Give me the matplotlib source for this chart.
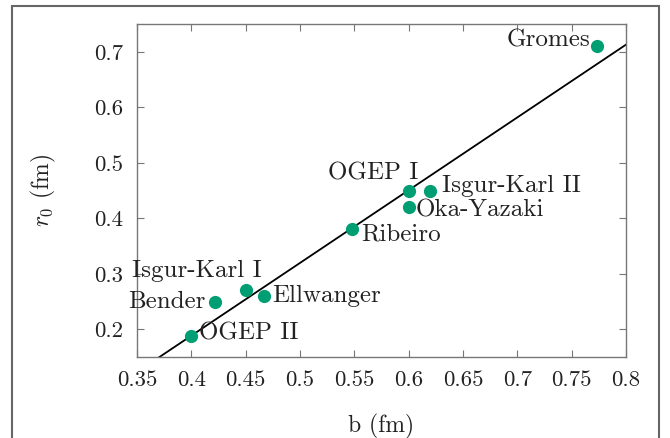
import numpy as np
import matplotlib
matplotlib.use("Agg")
import matplotlib.pyplot as plt
from matplotlib.patches import Rectangle

# models: (b, r0) in fm
names = ["Gromes", "OGEP I", "Isgur-Karl II", "Oka-Yazaki", "Ribeiro",
         "Isgur-Karl I", "Bender", "Ellwanger", "OGEP II"]
b_vals = [0.773, 0.600, 0.620, 0.600, 0.548, 0.450, 0.422, 0.467, 0.400]
r0_vals = [0.710, 0.450, 0.450, 0.420, 0.380, 0.270, 0.250, 0.260, 0.188]

# fitted straight line r0 = slope*b + intercept
fit_slope = 1.311
fit_intercept = -0.336

xticks = [0.35, 0.4, 0.45, 0.5, 0.55, 0.6, 0.65, 0.7, 0.75, 0.8]
xtick_labels = ["0.35", "0.4", "0.45", "0.5", "0.55", "0.6", "0.65", "0.7", "0.75", "0.8"]
yticks = [0.2, 0.3, 0.4, 0.5, 0.6, 0.7]
ytick_labels = ["0.2", "0.3", "0.4", "0.5", "0.6", "0.7"]

# label placement: (dx, dy) in pixels, ha, va
label_pos = {
    "Gromes": (-6, 6, "right", "center"),
    "OGEP I": (10, 6, "right", "bottom"),
    "Isgur-Karl II": (12, 5, "left", "center"),
    "Oka-Yazaki": (7, -3, "left", "center"),
    "Ribeiro": (9, -5, "left", "center"),
    "Isgur-Karl I": (16, 19, "right", "center"),
    "Bender": (-10, 0, "right", "center"),
    "Ellwanger": (8, 0, "left", "center"),
    "OGEP II": (8, 2, "left", "center"),
}

plt.rcParams["font.family"] = "serif"
plt.rcParams["font.serif"] = ["cmr10", "DejaVu Serif"]
plt.rcParams["mathtext.fontset"] = "cm"
plt.rcParams["axes.formatter.use_mathtext"] = True
plt.rcParams["font.size"] = 16.4

fig = plt.figure(figsize=(6.7, 4.38), dpi=100)
ax = fig.add_axes([137 / 670, 1 - 357 / 438, (626 - 137) / 670, (357 - 24) / 438])

xl = np.array([0.35, 0.8])
ax.plot(xl, fit_slope * xl + fit_intercept, color="black", lw=1.3, zorder=2)
ax.plot(b_vals, r0_vals, "o", color="#009e73", ms=9.5, mec="none", zorder=3)

for name, bx, ry in zip(names, b_vals, r0_vals):
    dx, dy, ha, va = label_pos[name]
    ax.annotate(name, xy=(bx, ry), xytext=(dx, dy), textcoords="offset pixels",
                ha=ha, va=va, color="#222222", fontsize=18, zorder=4)

ax.set_xlim(0.35, 0.8)
ax.set_ylim(0.15, 0.75)
ax.set_xticks(xticks)
ax.set_xticklabels(xtick_labels)
ax.set_yticks(yticks)
ax.set_yticklabels(ytick_labels)
ax.tick_params(direction="in", top=True, right=True, length=5, width=0.8,
               color="#777777", labelcolor="#222222")
ax.tick_params(axis="x", pad=10)
ax.tick_params(axis="y", pad=10)
for s in ax.spines.values():
    s.set_color("#777777")
    s.set_linewidth(1.0)

ax.set_xlabel("b (fm)", color="#222222", fontsize=17, labelpad=17)
ax.set_ylabel(r"$r_0$ (fm)", color="#222222", fontsize=17, labelpad=26)

# outer frame
fig.patches.append(Rectangle((12 / 670, -0.02), (659 - 12) / 670, 1 - 6 / 438 + 0.02,
                             transform=fig.transFigure, fill=False,
                             edgecolor="#666666", lw=1.5))

fig.savefig("out.png", dpi=100)
